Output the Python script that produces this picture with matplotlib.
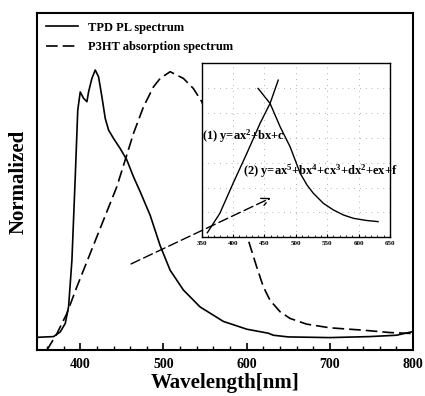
import numpy as np
import matplotlib
matplotlib.use('Agg')
import matplotlib.pyplot as plt
from matplotlib.ticker import MultipleLocator

plt.rcParams['font.family'] = ['Liberation Serif', 'DejaVu Serif']
plt.rcParams['font.weight'] = 'bold'
plt.rcParams['mathtext.fontset'] = 'custom'
plt.rcParams['mathtext.rm'] = 'Liberation Serif:bold'
plt.rcParams['mathtext.it'] = 'Liberation Serif:bold'
plt.rcParams['mathtext.bf'] = 'Liberation Serif:bold'

# TPD PL spectrum (normalized)
pl_wl = [350, 368, 376, 382, 386, 390, 394, 397, 400, 404, 408, 410, 414, 418, 422,
         426, 430, 434, 440, 448, 456, 464, 472, 484, 496, 508, 524, 544, 572, 600,
         626, 632, 650, 700, 748, 780, 800]
pl_y = [0.038, 0.040, 0.054, 0.079, 0.129, 0.267, 0.514, 0.712, 0.766, 0.747, 0.737,
        0.766, 0.806, 0.831, 0.811, 0.752, 0.688, 0.653, 0.628, 0.598, 0.564, 0.514,
        0.47, 0.40, 0.31, 0.237, 0.178, 0.128, 0.085, 0.062, 0.050, 0.044, 0.039,
        0.037, 0.040, 0.044, 0.055]

# P3HT absorption spectrum
ab_wl = [360, 372, 384, 396, 412, 428, 444, 454, 464, 476, 488, 496, 508, 524, 536,
         546, 560, 575, 590, 602, 612, 620, 628, 640, 652, 672, 700, 740, 772, 800]
ab_y = [0.0, 0.049, 0.109, 0.188, 0.287, 0.386, 0.485, 0.564, 0.643, 0.722, 0.781,
        0.806, 0.826, 0.806, 0.776, 0.737, 0.66, 0.56, 0.43, 0.326, 0.247, 0.188,
        0.148, 0.114, 0.094, 0.077, 0.066, 0.059, 0.052, 0.049]

# inset: fitted curves
fit1_wl = [359, 379, 400, 422, 443, 459, 472]
fit1_y = [0.026, 0.138, 0.31, 0.483, 0.655, 0.77, 0.904]
fit2_wl = [440, 459, 475, 491, 507, 518, 528, 544, 560, 576, 592, 612, 631]
fit2_y = [0.856, 0.77, 0.636, 0.52, 0.368, 0.30, 0.253, 0.195, 0.157, 0.128, 0.109,
          0.097, 0.09]

fig = plt.figure(figsize=(4.25, 3.96), dpi=100)
ax = fig.add_axes([0.087, 0.116, 0.885, 0.851])

ax.plot(pl_wl, pl_y, color='black', lw=1.2, label='TPD PL spectrum')
ax.plot(ab_wl, ab_y, color='black', lw=1.2, linestyle=(0, (7, 3)),
        label='P3HT absorption spectrum')

ax.set_xlim(348, 800)
ax.set_ylim(0, 1)
ax.set_yticks([])
ax.xaxis.set_major_locator(MultipleLocator(100))
ax.xaxis.set_minor_locator(MultipleLocator(20))
ax.tick_params(axis='x', which='major', direction='in', length=5, width=1.2,
               labelsize=10, pad=6)
ax.tick_params(axis='x', which='minor', direction='in', length=3, width=1)
for s in ax.spines.values():
    s.set_linewidth(1.5)
ax.set_xlabel('Wavelength[nm]', fontsize=15, fontweight='bold', labelpad=1)
ax.set_ylabel('Normalized', fontsize=15, fontweight='bold', labelpad=6)
ax.legend(loc='upper left', frameon=False, fontsize=9, handlelength=2.6,
          borderaxespad=0.3, labelspacing=0.6)

# inset
axins = fig.add_axes([0.4745, 0.4008, 0.443, 0.439])
axins.plot(fit1_wl, fit1_y, color='black', lw=1.0)
axins.plot(fit2_wl, fit2_y, color='black', lw=1.0)
axins.set_xlim(350, 650)
axins.set_ylim(0, 1)
axins.set_xticks([350, 400, 450, 500, 550, 600, 650])
axins.set_yticks(np.linspace(0, 1, 8)[1:-1])
axins.set_yticklabels([])
axins.tick_params(axis='x', direction='in', length=2, labelsize=5, pad=3)
axins.tick_params(axis='y', length=0)
axins.xaxis.set_minor_locator(MultipleLocator(10))
axins.tick_params(axis='x', which='minor', direction='in', length=1.5)
axins.grid(True, color='0.6', linestyle=(0, (1, 6)), lw=0.6)
for s in axins.spines.values():
    s.set_linewidth(1.0)
axins.text(0.0, 0.58, '(1) y=ax$^2$+bx+c', transform=axins.transAxes,
           fontsize=9, fontweight='bold', ha='left', va='center')
axins.text(0.22, 0.38, '(2) y=ax$^5$+bx$^4$+cx$^3$+dx$^2$+ex+f',
           transform=axins.transAxes, fontsize=9, fontweight='bold',
           ha='left', va='center', clip_on=False)

axins.annotate('', xy=(632, 0.455), xycoords=ax.transData,
               xytext=(458, 0.252), textcoords=ax.transData,
               arrowprops=dict(arrowstyle='->', color='black', lw=1.0,
                               linestyle=(0, (7, 3)), mutation_scale=14))

fig.savefig('out.png', dpi=100)
